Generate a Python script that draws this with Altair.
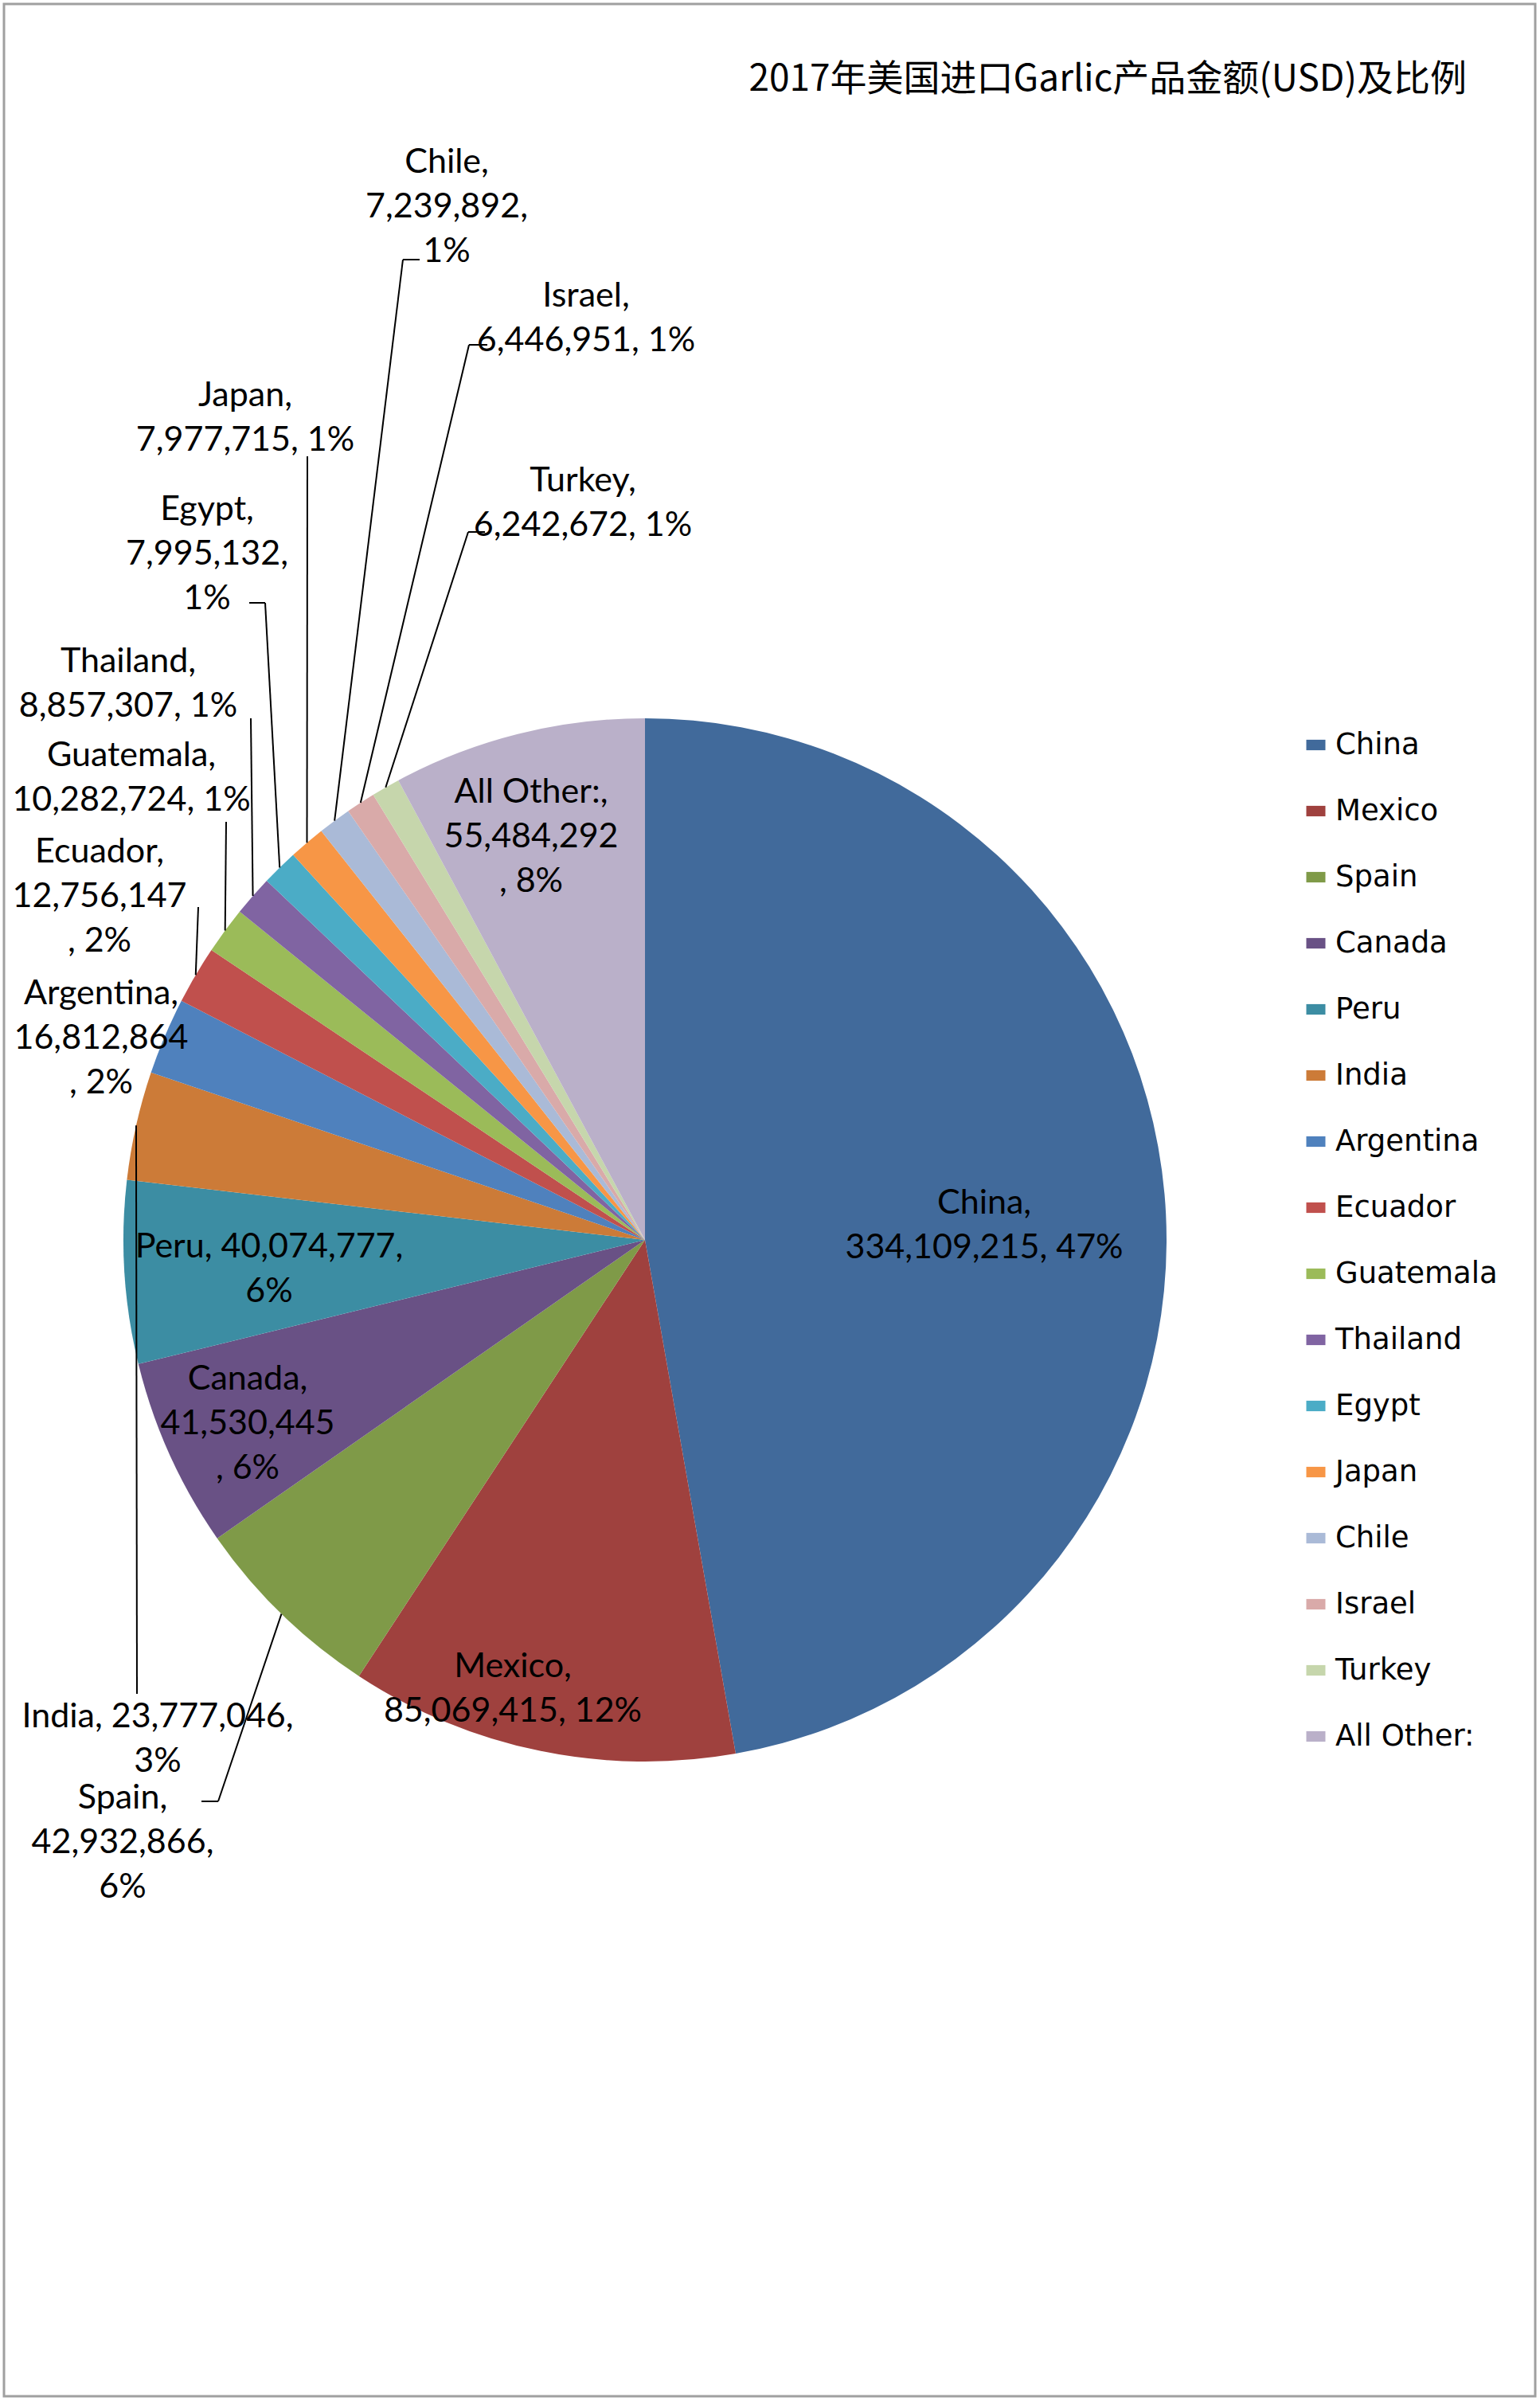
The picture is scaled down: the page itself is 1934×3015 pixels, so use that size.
import altair as alt
import numpy as np
import pandas as pd

# ---------------- data ----------------
title_text = "2017年美国进口Garlic产品金额(USD)及比例"
names = ["China", "Mexico", "Spain", "Canada", "Peru", "India", "Argentina", "Ecuador",
         "Guatemala", "Thailand", "Egypt", "Japan", "Chile", "Israel", "Turkey", "All Other:"]
values = [334109215, 85069415, 42932866, 41530445, 40074777, 23777046, 16812864, 12756147,
          10282724, 8857307, 7995132, 7977715, 7239892, 6446951, 6242672, 55484292]
colors = ["#416A9B", "#9F413E", "#7F9A48", "#695185", "#3C8DA3", "#CC7B38", "#4F81BD", "#C0504D",
          "#9BBB59", "#8064A2", "#4BACC6", "#F79646", "#AABAD7", "#D9AAA9", "#C6D6AC", "#BAB0C9"]
# how each data label wraps (as in the reference)
wrap = ["A", "A", "B", "C", "D", "D", "C", "C", "A", "A", "B", "A", "B", "A", "A", "C"]

# ---------------- layout (page pixels) ----------------
CX, CY, R = 810, 1557, 655
label_x = [1236, 644, 154, 311, 338, 198, 127, 125, 165, 161, 260, 308, 561, 736, 732, 667]
# centre of the first line of each label
label_y = [1511, 2093, 2258, 1732, 1566, 2156, 1248, 1070, 949, 831, 640, 497, 204, 372, 604, 995]
leader_names = ["Chile", "Israel", "Turkey", "Japan", "Egypt", "Thailand", "Guatemala", "Ecuador", "India", "Spain"]
elbow_x = [506, 589, 588, 386, 333, 315, 284, 249, 172, 274]
elbow_y = [326, 433, 668, 573, 757, 902, 1032, 1139, 2127, 2262]
tick_x = [527, 612, 609, 386, 313, 315, 284, 249, 172, 253]
title_x, title_y = 1842, 100

# ---------------- derived table ----------------
total = float(sum(values))
cum = np.cumsum([0] + values[:-1])
mid = (cum + np.array(values) / 2.0) / total * 2 * np.pi


def make_label(n, v, w):
    vs = f"{v:,}"
    ps = f"{round(v / total * 100)}%"
    if w == "A":
        return f"{n},\n{vs}, {ps}"
    if w == "B":
        return f"{n},\n{vs},\n{ps}"
    if w == "C":
        return f"{n},\n{vs}\n, {ps}"
    return f"{n}, {vs},\n{ps}"


df = pd.DataFrame({
    "idx": list(range(len(names))),
    "name": names,
    "value": values,
    "label": [make_label(n, v, w) for n, v, w in zip(names, values, wrap)],
    "lx": label_x,
    "ly": label_y,
})

seg_rows = []
for n, ex, ey, tx in zip(leader_names, elbow_x, elbow_y, tick_x):
    i = names.index(n)
    px = CX + R * np.sin(mid[i])
    py = CY - R * np.cos(mid[i])
    seg_rows.append({"x": px, "y": py, "x2": ex, "y2": ey})
    if tx != ex:
        seg_rows.append({"x": ex, "y": ey, "x2": tx, "y2": ey})
segs = pd.DataFrame(seg_rows)

tdf = pd.DataFrame({"t": [title_text], "tx": [title_x], "ty": [title_y]})

W, H = 1923, 3004
xs = alt.Scale(domain=[5, 5 + W], zero=False, nice=False)
ys = alt.Scale(domain=[5, 5 + H], zero=False, nice=False, reverse=True)

pie = alt.Chart(df).mark_arc(outerRadius=R).encode(
    theta=alt.Theta("value:Q", stack=True),
    order=alt.Order("idx:Q"),
    color=alt.Color(
        "name:N",
        scale=alt.Scale(domain=names, range=colors),
        sort=names,
        legend=alt.Legend(
            orient="none", legendX=1629, legendY=912, title=None,
            symbolType="M-1,-0.55H1V0.55H-1Z", symbolSize=576, symbolStrokeWidth=0,
            labelFont="DejaVu Sans", labelFontSize=37, labelColor="black",
            labelOffset=6, rowPadding=45, padding=0, labelLimit=500,
        ),
    ),
    x=alt.XDatum(CX, type="quantitative", scale=xs, axis=None),
    y=alt.YDatum(CY, type="quantitative", scale=ys, axis=None),
)

rules = alt.Chart(segs).mark_rule(color="black", strokeWidth=2).encode(
    x=alt.X("x:Q", scale=xs, axis=None),
    y=alt.Y("y:Q", scale=ys, axis=None),
    x2="x2:Q",
    y2="y2:Q",
)

labels = alt.Chart(df).mark_text(
    lineBreak="\n", font="Lato", fontSize=43, lineHeight=56,
    align="center", baseline="middle", color="black",
).encode(
    x=alt.X("lx:Q", scale=xs, axis=None),
    y=alt.Y("ly:Q", scale=ys, axis=None),
    text="label:N",
)

title = alt.Chart(tdf).mark_text(
    font="Noto Sans CJK SC", fontSize=46, align="right", baseline="middle", color="black",
).encode(
    x=alt.X("tx:Q", scale=xs, axis=None),
    y=alt.Y("ty:Q", scale=ys, axis=None),
    text="t:N",
)

chart = alt.layer(pie, rules, labels, title).properties(
    width=W, height=H,
    padding={"left": 5, "top": 5, "right": 6, "bottom": 6},
    autosize="none",
    background="white",
).configure_view(stroke="#A0A0A0", strokeWidth=3)

chart.save("out.html", embed_options={"renderer": "svg", "actions": False})
